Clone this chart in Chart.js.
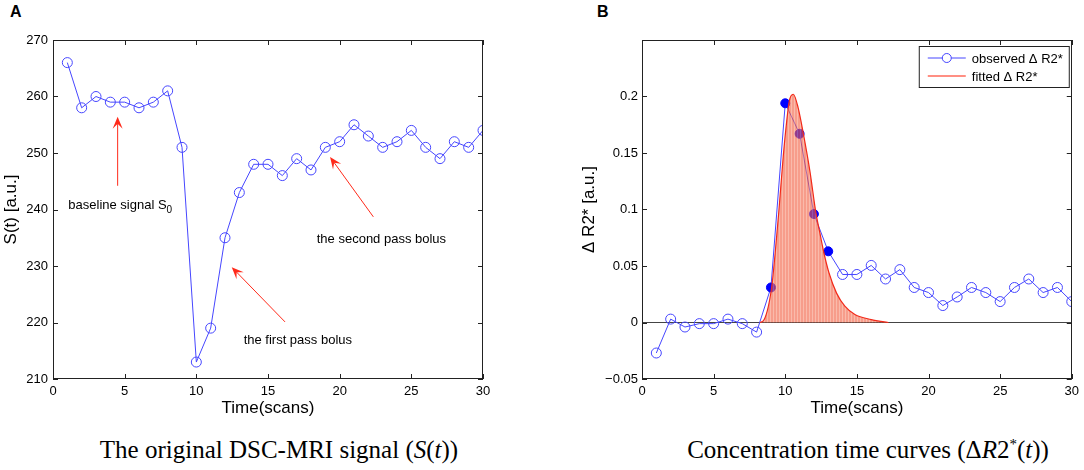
<!DOCTYPE html>
<html>
<head>
<meta charset="utf-8">
<script src="https://cdn.jsdelivr.net/npm/chart.js@4/dist/chart.umd.min.js"></script>
<style>
  body { margin: 0; background: #fff; width: 1084px; height: 470px; position: relative; overflow: hidden;
         font-family: 'Liberation Sans', Arial, sans-serif; }
  canvas { position: absolute; top: 0; }
  #left { left: 0; }
  #right { left: 570px; }
  .panel { position: absolute; top: 3px; font-weight: bold; font-size: 16px; }
  .caption { position: absolute; top: 436px; font-family: 'Liberation Serif', 'Times New Roman', serif;
             font-size: 25px; white-space: nowrap; transform: translateX(-50%); }
</style>
</head>
<body>
<div class="panel" style="left:10px">A</div>
<div class="panel" style="left:597px">B</div>
<canvas id="left" width="540" height="420"></canvas>
<canvas id="right" width="514" height="420"></canvas>
<div class="caption" style="left:279px">The original DSC-MRI signal (<i>S</i>(<i>t</i>))</div>
<div class="caption" style="left:868px">Concentration time curves (&Delta;<i>R</i>2<sup style="font-size:15px">*</sup>(<i>t</i>))</div>
<script>
'use strict';

// scan index
const TIME = [1, 2, 3, 4, 5, 6, 7, 8, 9, 10, 11, 12, 13, 14, 15, 16, 17, 18, 19, 20,
              21, 22, 23, 24, 25, 26, 27, 28, 29, 30];
// panel A: raw signal S(t)
const SIGNAL = [266, 258, 260, 259, 259, 258, 259, 261, 251, 213, 219, 235, 243, 248, 248,
                246, 249, 247, 251, 252, 255, 253, 251, 252, 254, 251, 249, 252, 251, 254];
// panel B: observed delta R2*
const DR2 = [-0.027, 0.003, -0.004, -0.001, -0.001, 0.003, -0.001, -0.0085, 0.031, 0.194,
             0.167, 0.096, 0.063, 0.0425, 0.0425, 0.0505, 0.0385, 0.0468, 0.031, 0.0265,
             0.015, 0.0226, 0.031, 0.0265, 0.0185, 0.031, 0.0385, 0.0265, 0.031, 0.0185];
// scans used for the fit (filled markers)
const FIRST_PASS = [9, 10, 11, 12, 13];
// fitted curve
const FIT_T = [8.23, 8.53, 9.05, 9.3, 9.55, 9.86, 10.1, 10.28, 10.56, 10.9, 11.25, 11.72,
               12.14, 12.42, 12.7, 13.05, 13.58, 14.16, 14.86, 16.0, 17.2];
const FIT_V = [0, 0.0026, 0.031, 0.062, 0.098, 0.147, 0.178, 0.196, 0.202, 0.19, 0.168, 0.134,
               0.097, 0.079, 0.0615, 0.044, 0.026, 0.0144, 0.007, 0.0026, 0];

const X_TICKS = [0, 5, 10, 15, 20, 25, 30];
const S_TICKS = [210, 220, 230, 240, 250, 260, 270];
const R_TICKS = [-0.05, 0, 0.05, 0.1, 0.15, 0.2];

const BLUE = 'rgb(70, 70, 255)';
const FONT = "'Liberation Sans', Arial, sans-serif";

// text notes and arrows for panel A, in data units
const NOTES = [
    { text: 'baseline signal S', sub: '0', x: 1.07, y: 240.8 },
    { text: 'the first pass bolus', x: 13.3, y: 216.9 },
    { text: 'the second pass bolus', x: 18.4, y: 234.7 }
];
const ARROWS = [
    [4.51, 244.2, 4.51, 256.4],
    [16.19, 220.1, 12.47, 229.8],
    [22.35, 238.7, 19.33, 249.3]
];

Chart.defaults.font.family = FONT;
Chart.defaults.color = '#000';

const xScale = () => ({
    type: 'linear', min: 0, max: 30,
    afterBuildTicks: s => { s.ticks = X_TICKS.map(v => ({ value: v })); },
    grid: { display: false, drawTicks: false },
    border: { display: false },
    ticks: { font: { size: 13 }, padding: 5, maxRotation: 0, autoSkip: false },
    title: { display: true, text: 'Time(scans)', font: { size: 17 }, padding: { top: 0, bottom: 1 } },
    afterFit: s => { s.height = 41; }
});

// matlab style box with inward ticks on all sides
const framePlugin = {
    id: 'frame',
    afterDraw: (chart) => {
        const { ctx, chartArea: a, scales: { x, y } } = chart;
        ctx.save();
        ctx.strokeStyle = '#222';
        ctx.lineWidth = 1;
        ctx.strokeRect(Math.round(a.left) + 0.5, Math.round(a.top) + 0.5,
                       Math.round(a.width) - 1, Math.round(a.height) - 1);
        ctx.beginPath();
        x.ticks.forEach(t => {
            const px = Math.round(x.getPixelForValue(t.value)) + 0.5;
            ctx.moveTo(px, a.bottom); ctx.lineTo(px, a.bottom - 5);
            ctx.moveTo(px, a.top); ctx.lineTo(px, a.top + 5);
        });
        y.ticks.forEach(t => {
            const py = Math.round(y.getPixelForValue(t.value)) + 0.5;
            ctx.moveTo(a.left, py); ctx.lineTo(a.left + 5, py);
            ctx.moveTo(a.right, py); ctx.lineTo(a.right - 5, py);
        });
        ctx.stroke();
        ctx.restore();
    }
};

const drawArrow = (ctx, x0, y0, x1, y1) => {
    const ang = Math.atan2(y1 - y0, x1 - x0);
    ctx.beginPath();
    ctx.moveTo(x0, y0);
    ctx.lineTo(x1 - 6 * Math.cos(ang), y1 - 6 * Math.sin(ang));
    ctx.stroke();
    ctx.beginPath();
    ctx.moveTo(x1, y1);
    ctx.lineTo(x1 - 12 * Math.cos(ang) + 5 * Math.sin(ang), y1 - 12 * Math.sin(ang) - 5 * Math.cos(ang));
    ctx.lineTo(x1 - 7 * Math.cos(ang), y1 - 7 * Math.sin(ang));
    ctx.lineTo(x1 - 12 * Math.cos(ang) - 5 * Math.sin(ang), y1 - 12 * Math.sin(ang) + 5 * Math.cos(ang));
    ctx.closePath();
    ctx.fill();
};

const notesPlugin = {
    id: 'notes',
    afterDatasetsDraw: (chart) => {
        const { ctx, scales: { x, y } } = chart;
        ctx.save();
        ctx.strokeStyle = '#ff2a1a';
        ctx.fillStyle = '#ff2a1a';
        ctx.lineWidth = 1;
        ARROWS.forEach(([a, b, c, d]) => {
            drawArrow(ctx, x.getPixelForValue(a), y.getPixelForValue(b), x.getPixelForValue(c), y.getPixelForValue(d));
        });
        ctx.fillStyle = '#000';
        ctx.textBaseline = 'middle';
        NOTES.forEach(n => {
            const px = x.getPixelForValue(n.x);
            const py = y.getPixelForValue(n.y);
            ctx.font = `13px ${FONT}`;
            ctx.fillText(n.text, px, py);
            if (n.sub) {
                const w = ctx.measureText(n.text).width;
                ctx.font = `10px ${FONT}`;
                ctx.fillText(n.sub, px + w, py + 5);
            }
        });
        ctx.restore();
    }
};

const legendPlugin = {
    id: 'boxLegend',
    afterDraw: (chart) => {
        const { ctx, chartArea: a } = chart;
        const left = a.right - 153, top = a.top + 6, w = 150, h = 41;
        ctx.save();
        ctx.fillStyle = '#fff';
        ctx.fillRect(left, top, w, h);
        ctx.strokeStyle = '#222';
        ctx.lineWidth = 1;
        ctx.strokeRect(left + 0.5, top + 0.5, w, h);
        ctx.font = `13px ${FONT}`;
        ctx.textBaseline = 'middle';
        const rows = [chart.data.datasets[1], chart.data.datasets[0]];
        rows.forEach((ds, i) => {
            const yy = top + 12 + i * 18;
            ctx.strokeStyle = i === 0 ? BLUE : '#ff6a5a';
            ctx.lineWidth = i === 0 ? 1 : 1.5;
            ctx.beginPath();
            ctx.moveTo(left + 9, yy); ctx.lineTo(left + 47, yy);
            ctx.stroke();
            if (i === 0) {
                ctx.beginPath();
                ctx.arc(left + 28, yy, 4.5, 0, Math.PI * 2);
                ctx.fillStyle = '#fff';
                ctx.fill();
                ctx.stroke();
            }
            ctx.fillStyle = '#000';
            ctx.fillText(ds.label, left + 53, yy + 1);
        });
        ctx.restore();
    }
};

// semi transparent salmon with light vertical stripes
const makeStripes = () => {
    const c = document.createElement('canvas');
    c.width = 3; c.height = 4;
    const g = c.getContext('2d');
    g.fillStyle = 'rgba(242, 92, 62, 0.6)';
    g.fillRect(0, 0, 3, 4);
    g.clearRect(2, 0, 1, 4);
    g.fillStyle = 'rgba(246, 140, 115, 0.6)';
    g.fillRect(2, 0, 1, 4);
    return g.createPattern(c, 'repeat');
};

// panel A
new Chart(document.getElementById('left'), {
    type: 'scatter',
    data: {
        datasets: [{
            label: 'S(t)',
            data: TIME.map((t, i) => ({ x: t, y: SIGNAL[i] })),
            showLine: true,
            borderColor: BLUE,
            borderWidth: 1,
            pointRadius: 5,
            pointBorderWidth: 1,
            pointBorderColor: BLUE,
            pointBackgroundColor: 'rgba(0,0,0,0)'
        }]
    },
    options: {
        responsive: false,
        animation: false,
        events: [],
        layout: { padding: { top: 40, right: 57, left: 0, bottom: 0 } },
        plugins: { legend: { display: false }, tooltip: { enabled: false } },
        scales: {
            x: xScale(),
            y: {
                type: 'linear', min: 210, max: 270,
                afterBuildTicks: s => { s.ticks = S_TICKS.map(v => ({ value: v })); },
                grid: { display: false, drawTicks: false },
                border: { display: false },
                ticks: { font: { size: 13 }, padding: 5, callback: v => String(v) },
                title: { display: true, text: 'S(t) [a.u.]', font: { size: 17 }, padding: { top: 1, bottom: 0 } },
                afterFit: s => { s.width = 53; }
            }
        }
    },
    plugins: [framePlugin, notesPlugin]
});

// panel B
new Chart(document.getElementById('right'), {
    type: 'scatter',
    data: {
        datasets: [{
            label: 'fitted \u0394 R2*',
            data: FIT_T.map((t, i) => ({ x: t, y: FIT_V[i] })),
            showLine: true,
            borderColor: '#f22a1a',
            borderWidth: 1.2,
            pointRadius: 0,
            fill: 'origin',
            backgroundColor: makeStripes(),
            cubicInterpolationMode: 'monotone',
            order: 0
        }, {
            label: 'observed \u0394 R2*',
            data: TIME.map((t, i) => ({ x: t, y: DR2[i] })),
            showLine: true,
            borderColor: BLUE,
            borderWidth: 1,
            pointRadius: TIME.map(t => FIRST_PASS.includes(t) ? 4.5 : 5),
            pointBorderWidth: 1,
            pointBorderColor: TIME.map(t => FIRST_PASS.includes(t) ? '#0000ff' : BLUE),
            pointBackgroundColor: TIME.map(t => FIRST_PASS.includes(t) ? '#0000ff' : 'rgba(0,0,0,0)'),
            order: 1
        }]
    },
    options: {
        responsive: false,
        animation: false,
        events: [],
        layout: { padding: { top: 40, right: 12, left: 0, bottom: 0 } },
        plugins: { legend: { display: false }, tooltip: { enabled: false } },
        scales: {
            x: xScale(),
            y: {
                type: 'linear', min: -0.05, max: 0.25,
                afterBuildTicks: s => { s.ticks = R_TICKS.map(v => ({ value: v })); },
                grid: {
                    drawTicks: false,
                    color: c => (c.tick && c.tick.value === 0) ? '#444' : 'rgba(0,0,0,0)'
                },
                border: { display: false },
                ticks: { font: { size: 13 }, padding: 4, callback: v => v < 0 ? '\u2212' + Math.abs(v) : String(v) },
                title: { display: true, text: '\u0394 R2* [a.u.]', font: { size: 17 }, padding: { top: 9, bottom: 0 } },
                afterFit: s => { s.width = 72; }
            }
        }
    },
    plugins: [framePlugin, legendPlugin]
});
</script>
</body>
</html>
